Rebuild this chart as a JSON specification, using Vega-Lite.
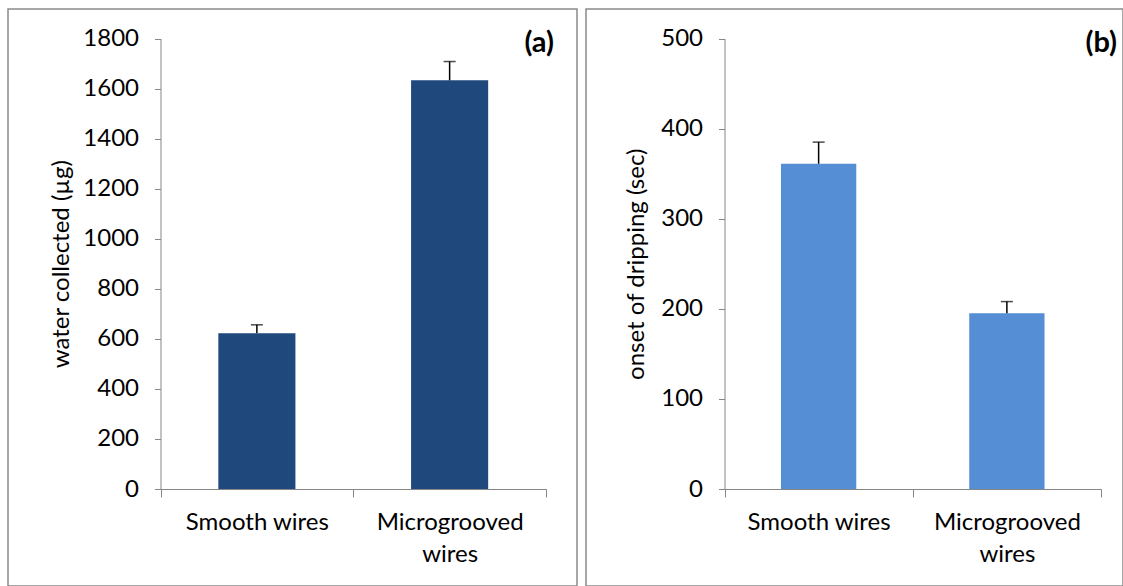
{
  "$schema": "https://vega.github.io/schema/vega-lite/v6.json",
  "padding": {"left": 7, "top": 8, "right": 0, "bottom": 0},
  "background": "white",
  "spacing": 7,
  "config": {
    "view": {"stroke": "#8a8a8a", "strokeWidth": 1.5},
    "font": "Lato",
    "axis": {
      "domainColor": "#868686",
      "tickColor": "#868686",
      "grid": false,
      "labelFont": "Lato",
      "titleFont": "Lato",
      "labelFontSize": 24,
      "titleFontSize": 24,
      "labelColor": "#000000",
      "titleColor": "#000000",
      "titleFontWeight": "normal"
    }
  },
  "hconcat": [
    {
      "width": 569,
      "height": 577,
      "data": {
        "values": [
          {"wire": "Smooth wires", "mean": 622, "upper": 656},
          {"wire": "Microgrooved wires", "mean": 1633, "upper": 1708}
        ]
      },
      "layer": [
        {
          "mark": {"type": "bar", "width": {"band": 0.4}, "color": "#1F497D"},
          "encoding": {
            "x": {
              "field": "wire",
              "type": "nominal",
              "sort": null,
              "scale": {"domain": ["Smooth wires", "Microgrooved wires"], "range": [152.5, 538], "paddingInner": 0, "paddingOuter": 0},
              "axis": {
                "title": null,
                "labelAngle": 0,
                "offset": -97,
                "tickBand": "extent",
                "tickSize": 8,
                "labelPadding": 13,
                "labelLineHeight": 32,
                "labelExpr": "datum.value == 'Microgrooved wires' ? ['Microgrooved', 'wires'] : datum.value"
              }
            },
            "y": {
              "field": "mean",
              "type": "quantitative",
              "scale": {"domain": [0, 1800], "range": [480, 29.5], "nice": false},
              "axis": {
                "title": "water collected (µg)",
                "format": "d",
                "values": [0, 200, 400, 600, 800, 1000, 1200, 1400, 1600, 1800],
                "offset": -152.5,
                "tickSize": 6,
                "labelPadding": 16,
                "titlePadding": 9
              }
            }
          }
        },
        {
          "mark": {"type": "rule", "color": "black", "strokeWidth": 1.5},
          "encoding": {
            "x": {"field": "wire", "type": "nominal", "sort": null},
            "y": {"field": "mean", "type": "quantitative"},
            "y2": {"field": "upper"}
          }
        },
        {
          "mark": {"type": "tick", "color": "black", "thickness": 1.5, "size": 12},
          "encoding": {
            "x": {"field": "wire", "type": "nominal", "sort": null},
            "y": {"field": "upper", "type": "quantitative"}
          }
        },
        {
          "data": {"values": [{"label": "(a)"}]},
          "mark": {"type": "text", "fontSize": 29, "fontWeight": "bold", "font": "Lato", "align": "right", "baseline": "middle", "dx": 8, "dy": 4, "color": "black"},
          "encoding": {
            "x": {"datum": "Microgrooved wires", "type": "nominal", "bandPosition": 1},
            "y": {"datum": 1800, "type": "quantitative"},
            "text": {"field": "label"}
          }
        }
      ]
    },
    {
      "width": 537,
      "height": 577,
      "data": {
        "values": [
          {"wire": "Smooth wires", "mean": 361, "upper": 385},
          {"wire": "Microgrooved wires", "mean": 195, "upper": 208}
        ]
      },
      "layer": [
        {
          "mark": {"type": "bar", "width": {"band": 0.4}, "color": "#558ED5"},
          "encoding": {
            "x": {
              "field": "wire",
              "type": "nominal",
              "sort": null,
              "scale": {"domain": ["Smooth wires", "Microgrooved wires"], "range": [138.5, 515], "paddingInner": 0, "paddingOuter": 0},
              "axis": {
                "title": null,
                "labelAngle": 0,
                "offset": -97,
                "tickBand": "extent",
                "tickSize": 8,
                "labelPadding": 13,
                "labelLineHeight": 32,
                "labelExpr": "datum.value == 'Microgrooved wires' ? ['Microgrooved', 'wires'] : datum.value"
              }
            },
            "y": {
              "field": "mean",
              "type": "quantitative",
              "scale": {"domain": [0, 500], "range": [480, 29.5], "nice": false},
              "axis": {
                "title": "onset of dripping (sec)",
                "format": "d",
                "values": [0, 100, 200, 300, 400, 500],
                "offset": -138.5,
                "tickSize": 6,
                "labelPadding": 16,
                "titlePadding": 12
              }
            }
          }
        },
        {
          "mark": {"type": "rule", "color": "black", "strokeWidth": 1.5},
          "encoding": {
            "x": {"field": "wire", "type": "nominal", "sort": null},
            "y": {"field": "mean", "type": "quantitative"},
            "y2": {"field": "upper"}
          }
        },
        {
          "mark": {"type": "tick", "color": "black", "thickness": 1.5, "size": 12},
          "encoding": {
            "x": {"field": "wire", "type": "nominal", "sort": null},
            "y": {"field": "upper", "type": "quantitative"}
          }
        },
        {
          "data": {"values": [{"label": "(b)"}]},
          "mark": {"type": "text", "fontSize": 29, "fontWeight": "bold", "font": "Lato", "align": "right", "baseline": "middle", "dx": 16, "dy": 4, "color": "black"},
          "encoding": {
            "x": {"datum": "Microgrooved wires", "type": "nominal", "bandPosition": 1},
            "y": {"datum": 500, "type": "quantitative"},
            "text": {"field": "label"}
          }
        }
      ]
    }
  ]
}
